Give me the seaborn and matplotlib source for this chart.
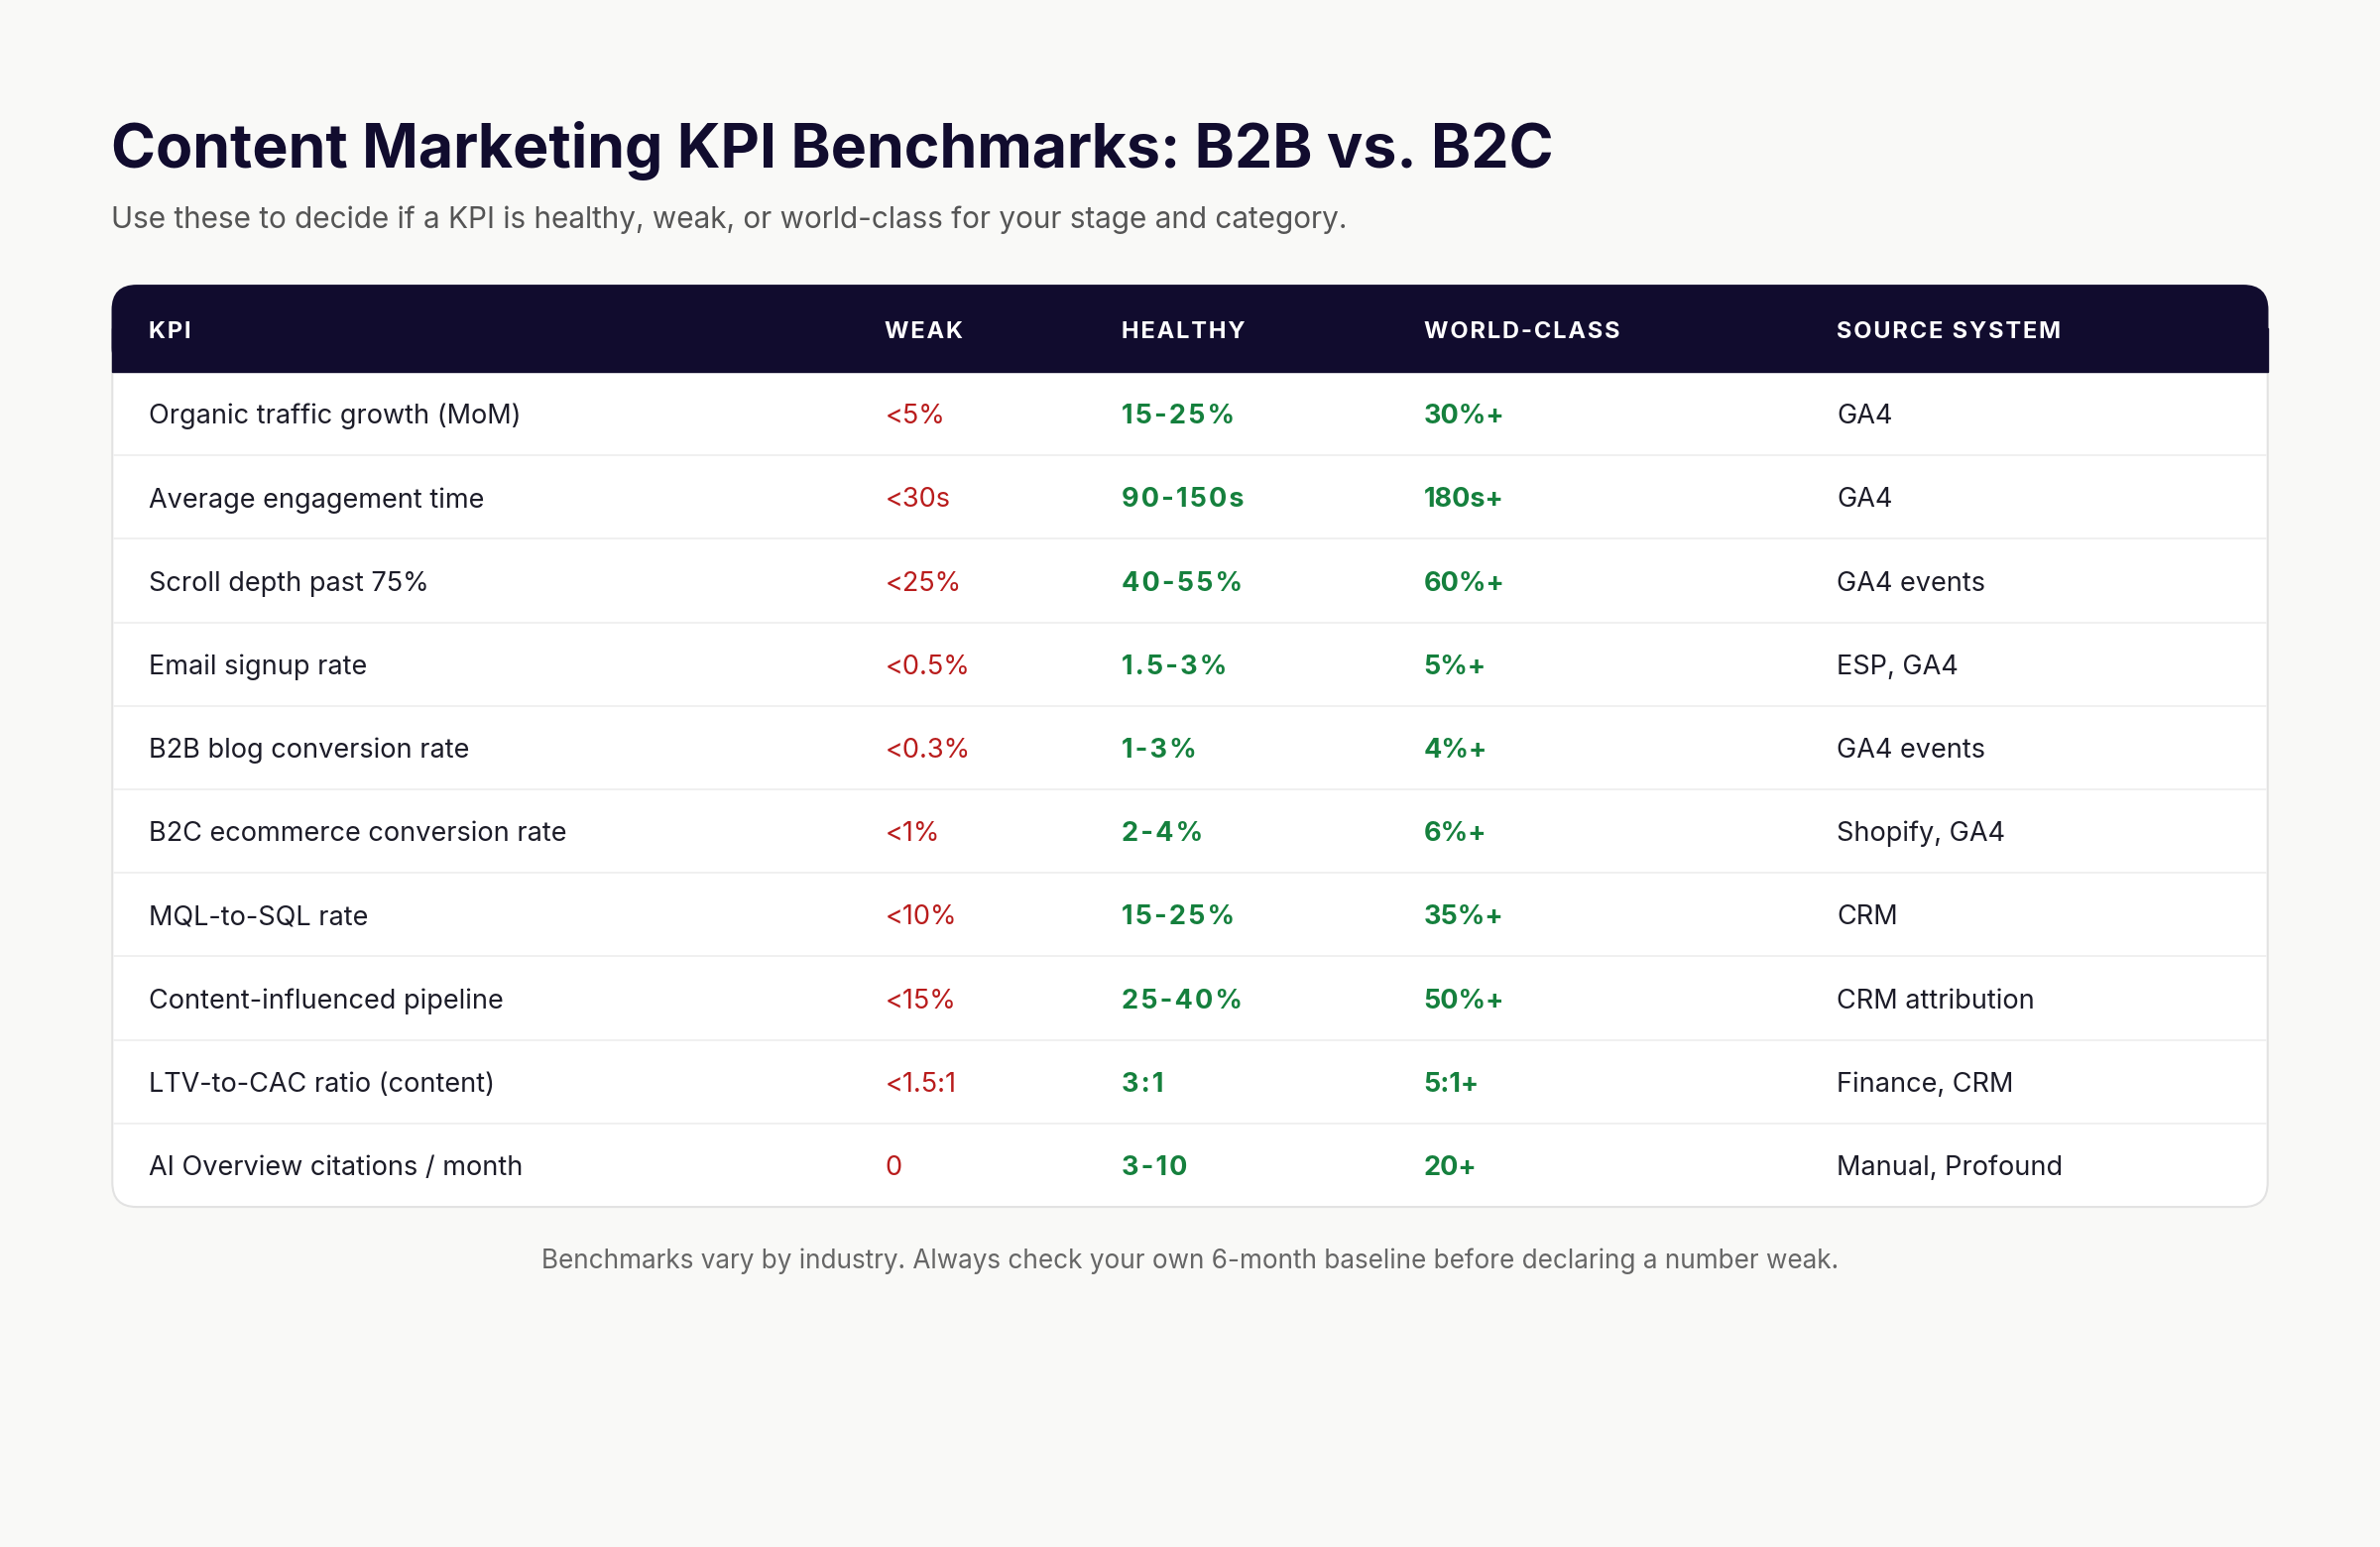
import matplotlib
matplotlib.use("Agg")
import matplotlib.pyplot as plt
import seaborn as sns
from matplotlib.patches import FancyBboxPatch, Rectangle

# Data
columns = ["KPI", "WEAK", "HEALTHY", "WORLD-CLASS", "SOURCE SYSTEM"]
kpis = ["Organic traffic growth (MoM)", "Average engagement time", "Scroll depth past 75%",
        "Email signup rate", "B2B blog conversion rate", "B2C ecommerce conversion rate",
        "MQL-to-SQL rate", "Content-influenced pipeline", "LTV-to-CAC ratio (content)",
        "AI Overview citations / month"]
weak = ["<5%", "<30s", "<25%", "<0.5%", "<0.3%", "<1%", "<10%", "<15%", "<1.5:1", "0"]
healthy = ["15-25%", "90-150s", "40-55%", "1.5-3%", "1-3%", "2-4%", "15-25%", "25-40%", "3:1", "3-10"]
world_class = ["30%+", "180s+", "60%+", "5%+", "4%+", "6%+", "35%+", "50%+", "5:1+", "20+"]
sources = ["GA4", "GA4", "GA4 events", "ESP, GA4", "GA4 events", "Shopify, GA4", "CRM",
           "CRM attribution", "Finance, CRM", "Manual, Profound"]

sns.set_theme(style="white")
plt.rcParams['font.family'] = ['Inter', 'DejaVu Sans']

BG = "#f9f9f7"
NAVY = "#110c2e"
RED = "#b91c1c"
GREEN = "#15803d"
TEXT = "#1c1c28"


def spaced(s):
    # rough letter spacing for the header labels
    return "\u200a".join(s)


fig = plt.figure(figsize=(24, 15.6), dpi=100, facecolor=BG)
ax = fig.add_axes([0, 0, 1, 1])
ax.set_xlim(0, 1568)
ax.set_ylim(1019, 0)
ax.axis("off")
ax.set_facecolor(BG)

ax.text(73, 99, "Content Marketing KPI Benchmarks: B2B vs. B2C", fontsize=43.8,
        fontweight="bold", color=NAVY, va="center")
ax.text(73, 145, "Use these to decide if a KPI is healthy, weak, or world-class for your stage and category.",
        fontsize=21.4, color="#555555", va="center")

x0, x1, top, head_h, row_h = 74, 1494, 188, 57, 55
bottom = top + head_h + row_h * len(kpis)
ax.add_patch(FancyBboxPatch((x0, top), x1 - x0, bottom - top,
                            boxstyle="round,pad=0,rounding_size=16",
                            fc="white", ec="#e2e2e2", lw=1.5, zorder=1))
ax.add_patch(FancyBboxPatch((x0, top), x1 - x0, head_h,
                            boxstyle="round,pad=0,rounding_size=16",
                            fc=NAVY, ec=NAVY, lw=1, zorder=2))
ax.add_patch(Rectangle((x0, top + head_h / 2), x1 - x0, head_h / 2, fc=NAVY, ec=NAVY, zorder=2))

col_x = [98, 583, 739, 938, 1210]
for cx, name in zip(col_x, columns):
    ax.text(cx, top + head_h / 2 + 2, spaced(name), fontsize=17, fontweight="bold", color="white",
            va="center", zorder=3)

for i in range(len(kpis)):
    yc = top + head_h + row_h * (i + 0.5) + 2
    if i > 0:
        ax.plot([x0 + 1, x1 - 1], [top + head_h + row_h * i] * 2, color="#eeeeee", lw=1.2, zorder=2)
    ax.text(col_x[0], yc, kpis[i], fontsize=19.5, color=TEXT, va="center", zorder=3)
    ax.text(col_x[1], yc, weak[i], fontsize=19.5, color=RED, va="center", zorder=3)
    ax.text(col_x[2], yc, spaced(healthy[i]), fontsize=19.5, color=GREEN, fontweight="bold",
            va="center", zorder=3)
    ax.text(col_x[3], yc, world_class[i], fontsize=19.5, color=GREEN, fontweight="bold",
            va="center", zorder=3)
    ax.text(col_x[4], yc, sources[i], fontsize=19.5, color=TEXT, va="center", zorder=3)

ax.text(784, 831, "Benchmarks vary by industry. Always check your own 6-month baseline before declaring a number weak.",
        fontsize=18.8, color="#666666", ha="center", va="center")

fig.savefig("out.png", dpi=100, facecolor=BG)
